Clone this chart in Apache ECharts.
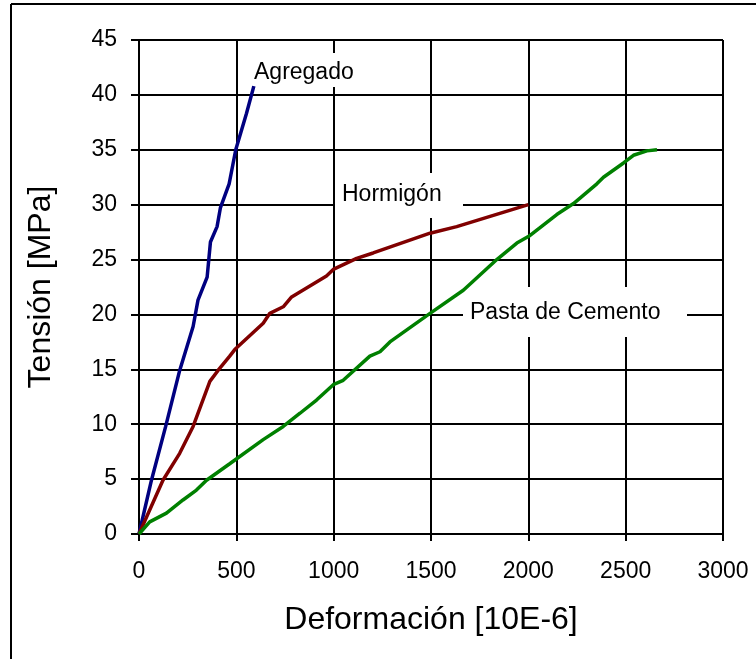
<!DOCTYPE html>
<html>
<head>
<meta charset="utf-8">
<script src="https://cdn.jsdelivr.net/npm/echarts@6/dist/echarts.min.js"></script>
<style>
	html, body { margin: 0; padding: 0; background: #fff; }
	#chart { width: 756px; height: 659px; }
</style>
</head>
<body>
<div id="chart"></div>
<script>
// curvas tension-deformacion
var agregadoX = [0, 64, 137, 209, 278, 303, 350, 367, 401, 418, 463, 497, 552, 590];
var agregadoY = [0, 4.9, 9.8, 14.9, 18.9, 21.3, 23.4, 26.6, 28.0, 29.7, 31.9, 35.0, 38.3, 40.8];

var hormigonX = [0, 123, 209, 278, 364, 406, 466, 492, 638, 672, 741, 784, 963, 998, 1118, 1203, 1495, 1632, 2000];
var hormigonY = [0, 4.9, 7.35, 9.8, 13.9, 14.9, 16.2, 16.8, 19.2, 20.1, 20.7, 21.6, 23.5, 24.1, 25.1, 25.6, 27.4, 28.0, 30.0];

var pastaX = [0, 55, 141, 226, 295, 347, 466, 638, 741, 827, 912, 998, 1049, 1186, 1238, 1289, 1495, 1666, 1838, 1941, 2009, 2146, 2232, 2352, 2386, 2489, 2540, 2609, 2661];
var pastaY = [0, 1.1, 1.9, 3.1, 4.0, 4.9, 6.4, 8.6, 9.8, 11.0, 12.2, 13.6, 14.0, 16.2, 16.6, 17.5, 20.1, 22.2, 25.0, 26.5, 27.2, 29.1, 30.1, 31.9, 32.5, 33.8, 34.5, 34.9, 35.0];

var seriesNames = ['Agregado', 'Hormigón', 'Pasta de Cemento'];
var xTicks = [0, 500, 1000, 1500, 2000, 2500, 3000];
var yTicks = [0, 5, 10, 15, 20, 25, 30, 35, 40, 45];

var FONT = '"Liberation Sans", Arial, sans-serif';

function pairs(xs, ys) {
	var out = [];
	for (var i = 0; i < xs.length; i++) {
		out.push([xs[i], ys[i]]);
	}
	return out;
}

// etiqueta con fondo blanco: tapa la rejilla pero no las curvas
function label(text, x, y, w, h, padLeft, padTop) {
	return [{
		type: 'rect',
		z: 1,
		shape: { x: x, y: y, width: w, height: h },
		style: { fill: '#fff', stroke: null }
	}, {
		type: 'text',
		z: 3,
		x: x + padLeft,
		y: y + padTop,
		style: {
			text: text,
			fill: '#000',
			font: '23px ' + FONT
		}
	}];
}

var chart = echarts.init(document.getElementById('chart'));

var graphics = [
	// marco exterior (solo izquierda y arriba)
	{ type: 'line', shape: { x1: 11, y1: 4, x2: 756, y2: 4 }, style: { stroke: '#000', lineWidth: 2 } },
	{ type: 'line', shape: { x1: 11, y1: 4, x2: 11, y2: 659 }, style: { stroke: '#000', lineWidth: 2 } }
];
graphics = graphics
	.concat(label(seriesNames[0], 248, 53, 122, 34, 6, 8))
	.concat(label(seriesNames[1], 335, 173, 128, 45, 7, 10))
	.concat(label(seriesNames[2], 463, 287, 224, 50, 7, 14));

chart.setOption({
	animation: false,
	backgroundColor: '#fff',
	grid: {
		left: 139,
		top: 40,
		right: 33,
		bottom: 125
	},
	xAxis: {
		type: 'value',
		min: xTicks[0],
		max: xTicks[xTicks.length - 1],
		interval: 500,
		name: 'Deformación [10E-6]',
		nameLocation: 'middle',
		nameGap: 70,
		nameTextStyle: { color: '#000', fontSize: 32, fontFamily: FONT, lineHeight: 32 },
		axisLine: { show: true, lineStyle: { color: '#000', width: 2 } },
		axisTick: { show: true, length: 7, lineStyle: { color: '#000', width: 2 } },
		axisLabel: {
			color: '#000', fontSize: 23, fontFamily: FONT, margin: 26,
			formatter: function (v) { return String(v); }
		},
		splitLine: { show: true, lineStyle: { color: '#000', width: 2 } }
	},
	yAxis: {
		type: 'value',
		min: yTicks[0],
		max: yTicks[yTicks.length - 1],
		interval: 5,
		name: 'Tensión [MPa]',
		nameLocation: 'middle',
		nameGap: 82,
		nameTextStyle: { color: '#000', fontSize: 32, fontFamily: FONT, lineHeight: 32 },
		axisLine: { show: true, lineStyle: { color: '#000', width: 2 } },
		axisTick: { show: true, length: 8, lineStyle: { color: '#000', width: 2 } },
		axisLabel: {
			color: '#000', fontSize: 23, fontFamily: FONT, margin: 22,
			formatter: function (v) { return String(v); }
		},
		splitLine: { show: true, lineStyle: { color: '#000', width: 2 } }
	},
	series: [{
		name: seriesNames[0],
		type: 'line',
		symbol: 'none',
		z: 5,
		data: pairs(agregadoX, agregadoY),
		lineStyle: { color: '#000080', width: 3.5 }
	}, {
		name: seriesNames[1],
		type: 'line',
		symbol: 'none',
		z: 5,
		data: pairs(hormigonX, hormigonY),
		lineStyle: { color: '#800000', width: 3.5 }
	}, {
		name: seriesNames[2],
		type: 'line',
		symbol: 'none',
		z: 5,
		data: pairs(pastaX, pastaY),
		lineStyle: { color: '#008000', width: 3.5 }
	}],
	graphic: graphics
});
</script>
</body>
</html>
